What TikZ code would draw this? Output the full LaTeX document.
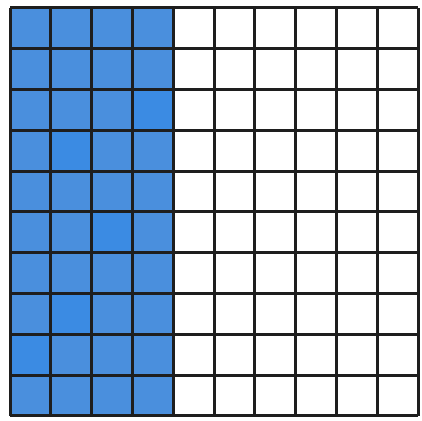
\documentclass[tikz,border=0pt]{standalone}
\usepackage{tikz}
\definecolor{gridblue}{HTML}{4A8FDD}
\definecolor{spotblue}{HTML}{3B8BE3}
\definecolor{gridline}{HTML}{1E1E1E}

\begin{document}
\begin{tikzpicture}[x=0.5pt,y=0.5pt,
cell/.style={fill=gridblue},
spot/.style={fill=spotblue},
gridlines/.style={draw=gridline,line width=1.5pt}
]
\useasboundingbox (0,0) rectangle (422,421);
% shaded part: first four columns
\foreach \c in {0,...,3}
  \foreach \r in {0,...,9}
    \fill[cell] ({10+40.8*\c},{5+40.8*\r}) rectangle ++(40.8,40.8);
% a few brighter cells
\foreach \c/\r in {3/7,1/6,2/4,1/2,0/1}
  \fill[spot] ({10+40.8*\c},{5+40.8*\r}) rectangle ++(40.8,40.8);
% the 10 x 10 grid
\foreach \i in {0,...,10} {
  \draw[gridlines] ({10+40.8*\i},5) -- ({10+40.8*\i},413);
  \draw[gridlines] (10,{5+40.8*\i}) -- (418,{5+40.8*\i});
}
\end{tikzpicture}
\end{document}
